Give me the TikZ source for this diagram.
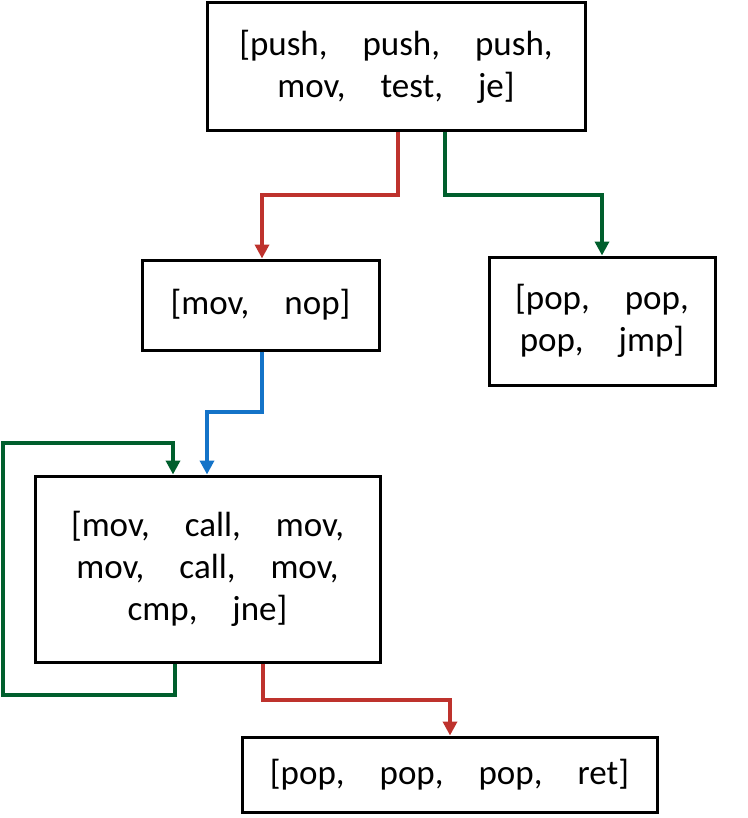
\documentclass[tikz,border=0pt]{standalone}
\usepackage{fontspec}
\setmainfont{Carlito}
\usetikzlibrary{arrows.meta}
\definecolor{cred}{RGB}{190,50,45}
\definecolor{cgreen}{RGB}{0,95,45}
\definecolor{cblue}{RGB}{20,115,200}
\begin{document}
\begin{tikzpicture}[x=1pt,y=-1pt,
  blk/.style={draw,line width=3pt,inner sep=0pt,align=center,font=\fontsize{35}{42}\selectfont},
  conn/.style={line width=3.5pt,-{Triangle[length=14pt,width=14pt]}}]
\useasboundingbox (0,0) rectangle (747,818);
\node[blk,minimum width=378pt,minimum height=128pt] (a) at (396,67) {[push,\quad push,\quad push,\\mov,\quad test,\quad je]};
\node[blk,minimum width=237pt,minimum height=90pt] (b) at (260.5,305) {[mov,\quad nop]};
\node[blk,minimum width=226pt,minimum height=128pt] (c) at (602,321) {[pop,\quad pop,\\pop,\quad jmp]};
\node[blk,minimum width=345pt,minimum height=186pt] (d) at (207.5,569) {[mov,\quad call,\quad mov,\\mov,\quad call,\quad mov,\\cmp,\quad jne]};
\node[blk,minimum width=415pt,minimum height=75pt] (e) at (449.5,774.5) {[pop,\quad pop,\quad pop,\quad ret]};
\coordinate (l1) at (3,695);
\coordinate (l2) at (3,443);
\draw[conn,cred] (a.south -| 398,0) |- (262,195) -- (b.north -| 262,0);
\draw[conn,cgreen] (a.south -| 445,0) |- (602,195) -- (c.north -| 602,0);
\draw[conn,cblue] (b.south -| 262,0) |- (207,412) -- (d.north -| 207,0);
\draw[conn,cgreen] (d.south -| 175,0) |- (l1) -- (l2) -| (d.north -| 173,0);
\draw[conn,cred] (d.south -| 263,0) |- (450,700) -- (e.north -| 450,0);
\end{tikzpicture}
\end{document}
